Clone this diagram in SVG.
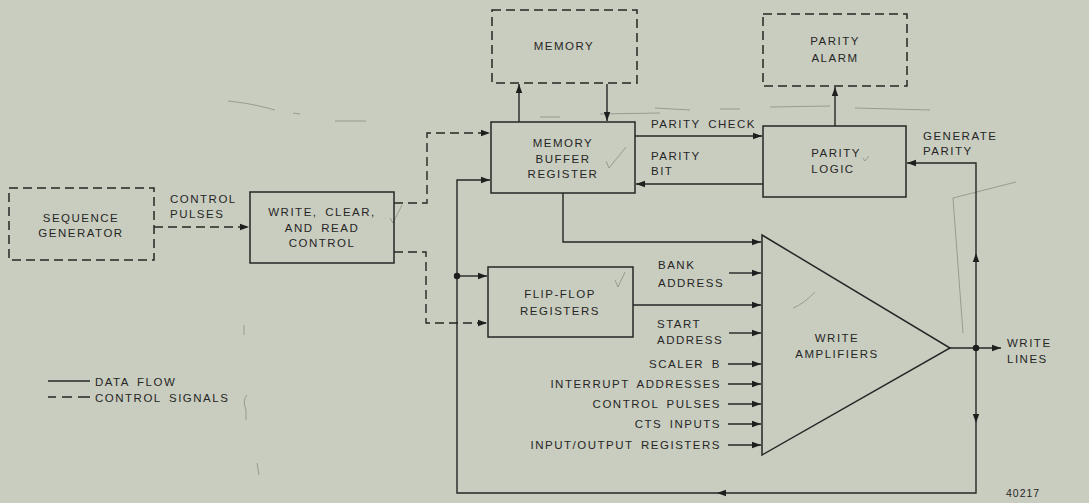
<svg xmlns="http://www.w3.org/2000/svg" width="1089" height="503" viewBox="0 0 1089 503">
<style>
.bg{fill:#c9cdbf}
.box{fill:none;stroke:#262626;stroke-width:1.5}
.dbox{fill:none;stroke:#262626;stroke-width:1.5;stroke-dasharray:9 5}
.ln{fill:none;stroke:#262626;stroke-width:1.4}
.dl{fill:none;stroke:#262626;stroke-width:1.4;stroke-dasharray:9 5}
.t{font-family:"Liberation Sans",Arial,sans-serif;font-size:11.5px;letter-spacing:1.5px;word-spacing:3px;fill:#262626}
.m{text-anchor:middle}
.e{text-anchor:end}
.pen{fill:none;stroke:#7a7d74;stroke-width:0.9;opacity:0.7}
.dot{fill:#1e1e1e}
</style>
<defs>
<marker id="arr" markerUnits="userSpaceOnUse" markerWidth="10" markerHeight="8" refX="9" refY="4" orient="auto">
<path d="M0,0.8 L9,4 L0,7.2 Z" fill="#1e1e1e"/>
</marker>
</defs>
<rect class="bg" x="0" y="0" width="1089" height="503"/>

<g id="pencil-marks">
<path class="pen" d="M228,101 Q250,103 275,110"/>
<path class="pen" d="M293,113 L300,114 M335,121 L366,121 M540,117 L560,117 M600,114 L660,113 M655,108 L690,110 M720,109 L740,109 M770,107 L830,106 M855,108 L930,110"/>
<path class="pen" d="M953,198 L1016,182 M953,198 L963,333"/>
<path class="pen" d="M606,161 L609,168 L626,147"/>
<path class="pen" d="M863,158 L865,161 L869,156"/>
<path class="pen" d="M615,280 L618,287 L625,272"/>
<path class="pen" d="M390,218 L393,223 L402,205"/>
<path class="pen" d="M793,308 Q802,305 815,292"/>
<path class="pen" d="M244,325 L244,335 M247,395 Q242,400 246,410 L246,420 M257,463 L259,475"/>
</g>

<g id="connectors">
<path class="dl" d="M154,227 H249" marker-end="url(#arr)"/>
<path class="dl" d="M394,203 H427 V133 H490" marker-end="url(#arr)"/>
<path class="dl" d="M394,252 H426 V323 H487" marker-end="url(#arr)"/>
<path class="ln" d="M519,122 V84" marker-end="url(#arr)"/>
<path class="ln" d="M607,84 V121" marker-end="url(#arr)"/>
<path class="ln" d="M635,136 H762" marker-end="url(#arr)"/>
<path class="ln" d="M763,184 H636" marker-end="url(#arr)"/>
<path class="ln" d="M835,126 V87" marker-end="url(#arr)"/>
<path class="ln" d="M976,348 V253" marker-end="url(#arr)"/>
<path class="ln" d="M976,253 V163 H907" marker-end="url(#arr)"/>
<path class="ln" d="M950,348 H1001" marker-end="url(#arr)"/>
<path class="ln" d="M976,348 V423" marker-end="url(#arr)"/>
<path class="ln" d="M976,423 V493 H717" marker-end="url(#arr)"/>
<path class="ln" d="M717,493 H457 V180 H490" marker-end="url(#arr)"/>
<path class="ln" d="M457,276 H487" marker-end="url(#arr)"/>
<path class="ln" d="M563,193 V242 H761" marker-end="url(#arr)"/>
<path class="ln" d="M633,305 H761" marker-end="url(#arr)"/>
<path class="ln" d="M729,273 H761" marker-end="url(#arr)"/>
<path class="ln" d="M729,333 H761" marker-end="url(#arr)"/>
<path class="ln" d="M728,364 H761" marker-end="url(#arr)"/>
<path class="ln" d="M728,384 H761" marker-end="url(#arr)"/>
<path class="ln" d="M728,404 H761" marker-end="url(#arr)"/>
<path class="ln" d="M728,424 H761" marker-end="url(#arr)"/>
<path class="ln" d="M728,445 H761" marker-end="url(#arr)"/>
<circle class="dot" cx="976" cy="348" r="3.2"/>
<circle class="dot" cx="457" cy="276" r="3.2"/>
<text class="t" x="170" y="203">CONTROL</text>
<text class="t" x="170" y="218">PULSES</text>
<text class="t" x="651" y="128">PARITY CHECK</text>
<text class="t" x="651" y="160">PARITY</text>
<text class="t" x="651" y="175">BIT</text>
<text class="t" x="923" y="140">GENERATE</text>
<text class="t" x="923" y="155">PARITY</text>
<text class="t" x="1007" y="347">WRITE</text>
<text class="t" x="1007" y="363">LINES</text>
<text class="t" x="658" y="269">BANK</text>
<text class="t" x="658" y="287">ADDRESS</text>
<text class="t" x="657" y="328">START</text>
<text class="t" x="657" y="344">ADDRESS</text>
<text class="t e" x="721" y="368">SCALER B</text>
<text class="t e" x="721" y="388">INTERRUPT ADDRESSES</text>
<text class="t e" x="721" y="408">CONTROL PULSES</text>
<text class="t e" x="721" y="428">CTS INPUTS</text>
<text class="t e" x="721" y="449">INPUT/OUTPUT REGISTERS</text>
</g>

<g id="sequence-generator">
<rect class="dbox" x="9" y="188" width="145" height="72"/>
<text class="t m" x="81" y="222">SEQUENCE</text>
<text class="t m" x="81" y="237">GENERATOR</text>
</g>

<g id="write-clear-read-control">
<rect class="box" x="250" y="192" width="144" height="71"/>
<text class="t m" x="322" y="216">WRITE, CLEAR,</text>
<text class="t m" x="322" y="232">AND READ</text>
<text class="t m" x="322" y="247">CONTROL</text>
</g>

<g id="memory">
<rect class="dbox" x="492" y="10" width="145" height="73"/>
<text class="t m" x="564" y="50">MEMORY</text>
</g>

<g id="memory-buffer-register">
<rect class="box" x="491" y="122" width="144" height="71"/>
<text class="t m" x="563" y="147">MEMORY</text>
<text class="t m" x="563" y="163">BUFFER</text>
<text class="t m" x="563" y="178">REGISTER</text>
</g>

<g id="parity-alarm">
<rect class="dbox" x="763" y="14" width="144" height="72"/>
<text class="t m" x="835" y="45">PARITY</text>
<text class="t m" x="835" y="62">ALARM</text>
</g>

<g id="parity-logic">
<rect class="box" x="763" y="126" width="143" height="71"/>
<text class="t m" x="836" y="157">PARITY</text>
<text class="t m" x="833" y="173">LOGIC</text>
</g>

<g id="flip-flop-registers">
<rect class="box" x="488" y="267" width="145" height="70"/>
<text class="t m" x="560" y="298">FLIP-FLOP</text>
<text class="t m" x="560" y="315">REGISTERS</text>
</g>

<g id="write-amplifiers">
<path class="box" d="M762,235 L950,348 L762,455 Z"/>
<text class="t m" x="837" y="342">WRITE</text>
<text class="t m" x="837" y="358">AMPLIFIERS</text>
</g>

<g id="legend">
<path class="ln" d="M48,381 H90"/>
<path class="ln" d="M48,397 H56 M62,397 H72 M78,397 H90"/>
<text class="t" x="95" y="386">DATA FLOW</text>
<text class="t" x="95" y="402">CONTROL SIGNALS</text>
</g>

<g id="figure-number">
<text class="t" x="1006" y="497" style="font-size:10.5px;letter-spacing:1px">40217</text>
</g>
</svg>
